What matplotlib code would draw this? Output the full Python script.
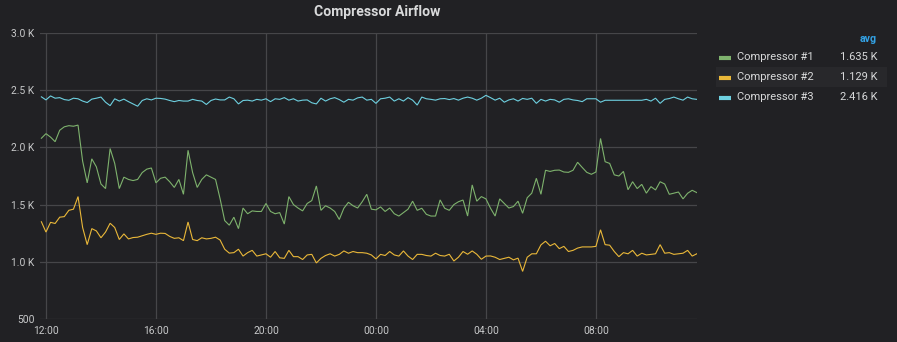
import numpy as np
import matplotlib
matplotlib.use("Agg")
import matplotlib.pyplot as plt

plt.rcParams['font.family'] = ['Roboto', 'DejaVu Sans']

# ---- data: 10-minute samples starting 11:50, minutes relative to 12:00 ----
start_minute = -10
step_minutes = 10

compressor_1 = [
    2080, 2120, 2090, 2050, 2150, 2180, 2190, 2185, 2195, 1880,
    1690, 1900, 1830, 1680, 1640, 1990, 1860, 1640, 1740, 1720,
    1710, 1720, 1780, 1810, 1820, 1690, 1730, 1740, 1700, 1650,
    1720, 1590, 1975, 1780, 1650, 1720, 1760, 1740, 1720, 1550,
    1360, 1320, 1390, 1290, 1470, 1420, 1445, 1440, 1440, 1510,
    1440, 1420, 1430, 1330, 1570, 1500, 1470, 1445, 1510, 1535,
    1663, 1450, 1490, 1470, 1440, 1370, 1468, 1520, 1490, 1470,
    1525, 1590, 1460, 1454, 1480, 1440, 1470, 1420, 1400, 1430,
    1460, 1530, 1450, 1468, 1415, 1400, 1400, 1541, 1468, 1450,
    1500, 1525, 1540, 1400, 1672, 1530, 1570, 1550, 1468, 1400,
    1550, 1510, 1470, 1483, 1530, 1424, 1560, 1600, 1730, 1590,
    1800, 1790, 1800, 1802, 1785, 1782, 1800, 1870, 1825, 1782,
    1765, 1785, 2078, 1875, 1860, 1760, 1750, 1790, 1630, 1700,
    1640, 1677, 1600, 1657, 1628, 1700, 1680, 1590, 1600, 1610,
    1550, 1599, 1625, 1605,
]

compressor_2 = [
    1350, 1260, 1345, 1335, 1390, 1395, 1450, 1460, 1570, 1300,
    1150, 1290, 1270, 1210, 1260, 1337, 1300, 1195, 1244, 1200,
    1212, 1215, 1228, 1240, 1250, 1240, 1250, 1248, 1222, 1205,
    1210, 1185, 1348, 1195, 1185, 1210, 1200, 1205, 1215, 1190,
    1110, 1076, 1080, 1110, 1050, 1080, 1100, 1050, 1060, 1070,
    1040, 1090, 1035, 1030, 1100, 1045, 1045, 1020, 1060, 1065,
    990, 1030, 1055, 1070, 1050, 1065, 1095, 1075, 1090, 1080,
    1080, 1075, 1060, 1025, 1065, 1055, 1090, 1060, 1050, 1095,
    1050, 1020, 1065, 1065, 1055, 1050, 1075, 1055, 1050, 1066,
    1007, 1040, 1090, 1066, 1095, 1066, 1022, 1050, 1051, 1040,
    1020, 1030, 1040, 1017, 1032, 916, 1040, 1070, 1070, 1148,
    1180, 1140, 1160, 1115, 1135, 1090, 1100, 1120, 1130, 1130,
    1130, 1135, 1280, 1150, 1145, 1090, 1045, 1080, 1070, 1100,
    1050, 1075, 1060, 1065, 1070, 1150, 1075, 1080, 1065, 1070,
    1075, 1100, 1050, 1070,
]

compressor_3 = [
    2442, 2415, 2450, 2430, 2435, 2418, 2412, 2430, 2425, 2405,
    2392, 2422, 2430, 2440, 2395, 2365, 2425, 2405, 2422, 2400,
    2380, 2360, 2410, 2425, 2415, 2430, 2428, 2422, 2410, 2400,
    2410, 2405, 2405, 2420, 2410, 2405, 2375, 2410, 2423, 2415,
    2415, 2440, 2425, 2380, 2410, 2413, 2405, 2420, 2413, 2425,
    2400, 2425, 2420, 2435, 2413, 2425, 2405, 2413, 2415, 2390,
    2380, 2430, 2405, 2425, 2435, 2418, 2395, 2420, 2413, 2433,
    2440, 2413, 2420, 2385, 2425, 2430, 2440, 2405, 2425, 2405,
    2435, 2413, 2370, 2440, 2425, 2420, 2413, 2425, 2427, 2418,
    2427, 2413, 2430, 2440, 2430, 2413, 2430, 2455, 2435, 2413,
    2430, 2395, 2415, 2425, 2405, 2428, 2420, 2430, 2385, 2420,
    2405, 2420, 2415, 2395, 2420, 2425, 2415, 2410, 2400, 2425,
    2425, 2425, 2395, 2412, 2412, 2412, 2412, 2412, 2412, 2412,
    2412, 2412, 2420, 2405, 2430, 2385, 2420, 2427, 2440, 2425,
    2413, 2440, 2425, 2420,
]

series_names = ["Compressor #1", "Compressor #2", "Compressor #3"]
series_avg_labels = ["1.635 K", "1.129 K", "2.416 K"]
series_colors = ["#7eb26d", "#eab839", "#6ed0e0"]

x_tick_minutes = [0, 240, 480, 720, 960, 1200]
x_tick_labels = ["12:00", "16:00", "20:00", "00:00", "04:00", "08:00"]
y_tick_values = [500, 1000, 1500, 2000, 2500, 3000]
y_tick_labels = ["500", "1.0 K", "1.5 K", "2.0 K", "2.5 K", "3.0 K"]

# ---- styling ----
BG = "#212124"
GRID = "#464649"
TEXT = "#c8c9ca"
W, H = 897, 342

fig = plt.figure(figsize=(W / 100, H / 100), dpi=100, facecolor=BG)


def fx(px):
    return px / W


def fy(py):
    return 1 - py / H


ax = fig.add_axes([fx(40), fy(319), (697 - 40) / W, (319 - 33) / H])
ax.set_facecolor(BG)

times = start_minute + step_minutes * np.arange(len(compressor_1))
for values, color in zip([compressor_1, compressor_2, compressor_3], series_colors):
    ax.plot(times, values, color=color, linewidth=0.8, solid_joinstyle="miter")

ax.set_xlim(-13, 1420.5)
ax.set_ylim(500, 3000)
ax.set_xticks(x_tick_minutes)
ax.set_xticklabels(x_tick_labels)
ax.set_yticks(y_tick_values)
ax.set_yticklabels(y_tick_labels)
ax.tick_params(axis="both", length=0, colors=TEXT, labelsize=7.4)
ax.tick_params(axis="y", pad=4)
ax.tick_params(axis="x", pad=5)
ax.grid(True, color=GRID, linewidth=0.9)
ax.set_axisbelow(True)
for s in ax.spines.values():
    s.set_visible(False)

# title
fig.text(fx(377), fy(12), "Compressor Airflow", color="#d8d9da", fontsize=10.1,
         fontweight="bold", ha="center", va="center")

# legend table
fig.patches.append(plt.Rectangle((fx(716), fy(87.5)), (887 - 716) / W, 20 / H,
                                 transform=fig.transFigure, facecolor="#28282b",
                                 edgecolor="none", zorder=0))
fig.text(fx(877), fy(39), "avg", color="#33a2e5", fontsize=7.6,
         fontweight="bold", ha="right", va="center")
row_y = [57.5, 77.5, 97.5]
for name, avg, color, ry in zip(series_names, series_avg_labels, series_colors, row_y):
    fig.lines.append(plt.Line2D([fx(719), fx(731)], [fy(ry + 0.5), fy(ry + 0.5)],
                                transform=fig.transFigure, color=color,
                                linewidth=3.0, solid_capstyle="butt"))
    fig.text(fx(737), fy(ry), name, color="#d8d9da", fontsize=8,
             ha="left", va="center")
    fig.text(fx(877), fy(ry), avg, color="#d8d9da", fontsize=8,
             ha="right", va="center")

fig.savefig("out.png", dpi=100, facecolor=BG)
